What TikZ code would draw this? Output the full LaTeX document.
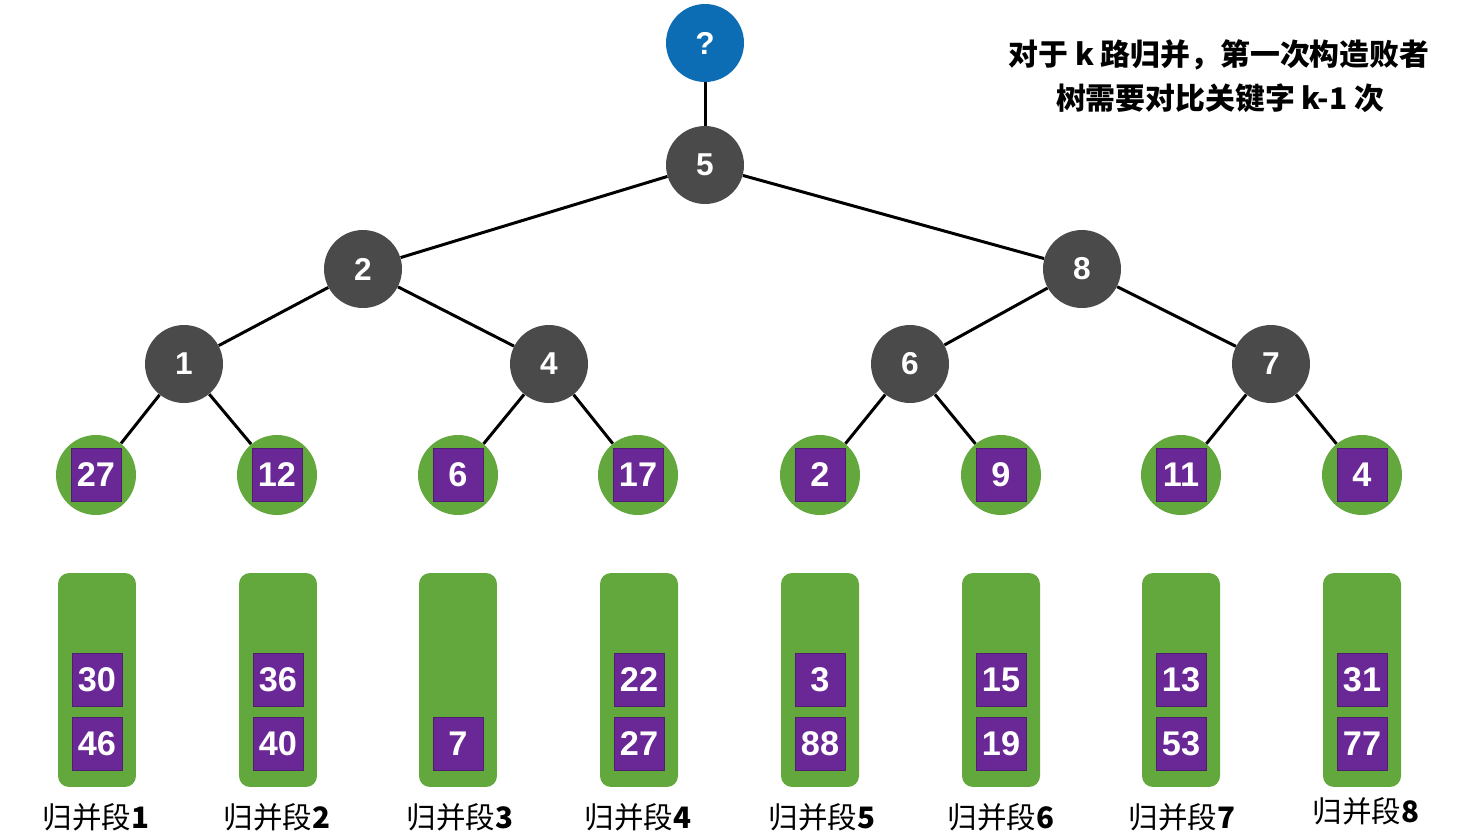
\documentclass[tikz,border=0pt]{standalone}
\usepackage{fontspec}
\setmainfont{Liberation Sans}
\newfontfamily\cjk{Noto Sans CJK SC}
\definecolor{bluenode}{RGB}{12,108,180}
\definecolor{graynode}{RGB}{74,74,74}
\definecolor{leafgreen}{RGB}{98,168,60}
\definecolor{keypurple}{RGB}{106,40,150}
\begin{document}
\begin{tikzpicture}[x=0.02cm,y=-0.02cm,
  inner/.style={circle, fill=graynode, minimum size=1.56cm, inner sep=0pt, text=white, font=\fontsize{18}{20}\selectfont\bfseries},
  rootnode/.style={inner, fill=bluenode},
  leafc/.style={circle, fill=leafgreen, minimum size=1.6cm, inner sep=0pt},
  keybox/.style={fill=keypurple, draw=keypurple!75!black, line width=0.5pt, minimum width=1.0cm, minimum height=1.06cm, inner sep=0pt, text=white, font=\fontsize{19.5}{21}\selectfont\bfseries},
  seg/.style={fill=leafgreen, rounded corners=0.22cm, minimum width=1.56cm, minimum height=4.28cm, inner sep=0pt},
  lab/.style={font=\cjk\fontsize{16.8}{19}\selectfont},
  note/.style={font=\cjk\bfseries\fontsize{17}{20}\selectfont},
  edge/.style={line width=1.7pt, black}]
\useasboundingbox (0,0) rectangle (1460,839);
% inner nodes
\node[rootnode] (q) at (705,43) {?};
\node[inner] (n5) at (705,165) {5};
\node[inner] (n2) at (363,269) {2};
\node[inner] (n8) at (1082,269) {8};
\node[inner] (n1) at (184,364) {1};
\node[inner] (n4) at (549,364) {4};
\node[inner] (n6) at (910,364) {6};
\node[inner] (n7) at (1271,364) {7};
% leaves
\foreach \i/\x/\v in {1/96/27,2/277/12,3/458/6,4/638/17,5/820/2,6/1001/9,7/1181/11,8/1362/4}{
  \node[leafc] (l\i) at (\x,475) {};
  \node[keybox] (k\i) at (\x,475) {\v};
}
% edges
\draw[edge] (q) -- (n5);
\draw[edge] (n5) -- (n2);
\draw[edge] (n5) -- (n8);
\draw[edge] (n2) -- (n1);
\draw[edge] (n2) -- (n4);
\draw[edge] (n8) -- (n6);
\draw[edge] (n8) -- (n7);
\draw[edge] (n1) -- (l1);
\draw[edge] (n1) -- (l2);
\draw[edge] (n4) -- (l3);
\draw[edge] (n4) -- (l4);
\draw[edge] (n6) -- (l5);
\draw[edge] (n6) -- (l6);
\draw[edge] (n7) -- (l7);
\draw[edge] (n7) -- (l8);
% segments
\foreach \i/\x in {1/97,2/278,3/458,4/639,5/820,6/1001,7/1181,8/1362}{
  \node[seg] (s\i) at (\x,680) {};
}
\node[keybox] (s1a) at (97,680) {30};
\node[keybox] (s1b) at (97,744) {46};
\node[keybox] (s2a) at (278,680) {36};
\node[keybox] (s2b) at (278,744) {40};
\node[keybox] (s3b) at (458,744) {7};
\node[keybox] (s4a) at (639,680) {22};
\node[keybox] (s4b) at (639,744) {27};
\node[keybox] (s5a) at (820,680) {3};
\node[keybox] (s5b) at (820,744) {88};
\node[keybox] (s6a) at (1001,680) {15};
\node[keybox] (s6b) at (1001,744) {19};
\node[keybox] (s7a) at (1181,680) {13};
\node[keybox] (s7b) at (1181,744) {53};
\node[keybox] (s8a) at (1362,680) {31};
\node[keybox] (s8b) at (1362,744) {77};
% labels
\node[lab] (t1) at (96,817) {归并段\textbf{1}};
\node[lab] (t2) at (277,817) {归并段\textbf{2}};
\node[lab] (t3) at (460,817) {归并段\textbf{3}};
\node[lab] (t4) at (638,817) {归并段\textbf{4}};
\node[lab] (t5) at (822,817) {归并段\textbf{5}};
\node[lab] (t6) at (1001,817) {归并段\textbf{6}};
\node[lab] (t7) at (1182,817) {归并段\textbf{7}};
\node[lab] (t8) at (1366,811) {归并段\textbf{8}};
% note
\node[note] (m1) at (1219,55) {对于 k 路归并，第一次构造败者};
\node[note] (m2) at (1220,98) {树需要对比关键字 k-1 次};
\end{tikzpicture}
\end{document}
